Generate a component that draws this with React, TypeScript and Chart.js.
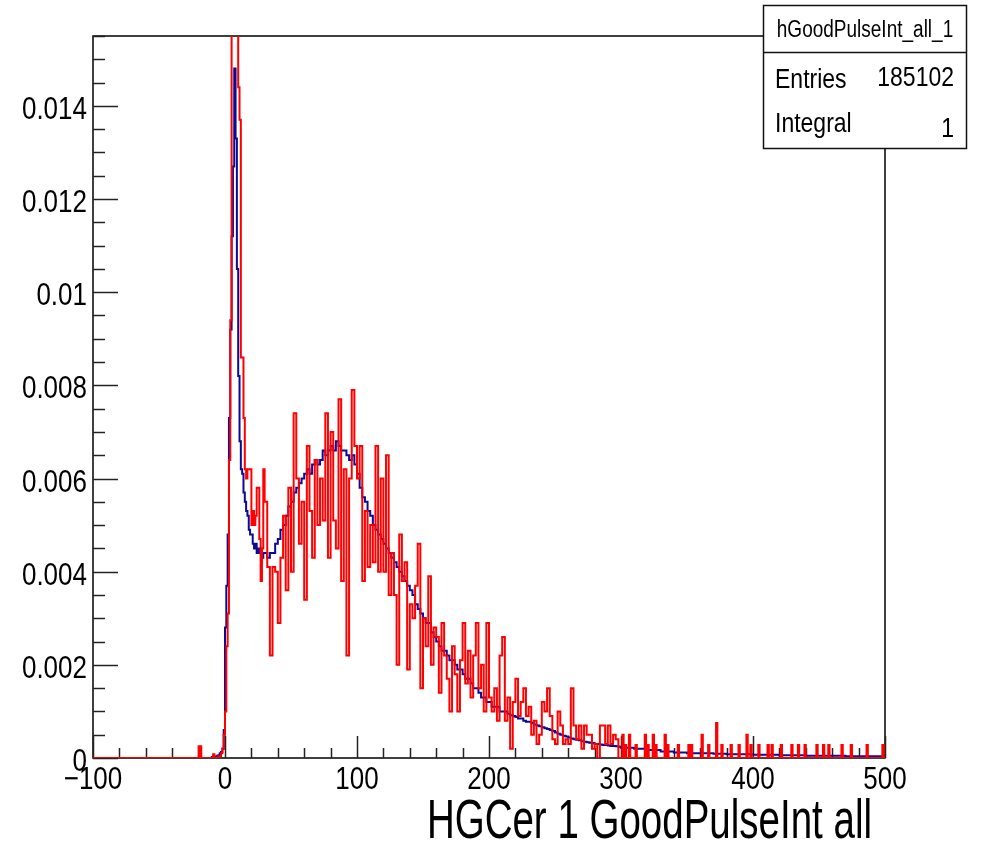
import React, { useEffect, useRef } from "react";
import { Chart, registerables } from "chart.js";

Chart.register(...registerables);

// ---- axis ranges / ticks ----
const xMin = -100;
const xMax = 500;
const yMin = 0;
const yMax = 0.0155;
const xTickValues = [-100, 0, 100, 200, 300, 400, 500];
const xTickLabels = ["\u2212100", "0", "100", "200", "300", "400", "500"];
const yTickValues = [0, 0.002, 0.004, 0.006, 0.008, 0.01, 0.012, 0.014];
const yTickLabels = ["0", "0.002", "0.004", "0.006", "0.008", "0.01", "0.012", "0.014"];
const xTitle = "HGCer 1 GoodPulseInt all";

// ---- stats box ----
const statsTitle = "hGoodPulseInt_all_1";
const statsNames = ["Entries", "Integral"];
const statsValues = ["185102", "1"];

// ---- blue histogram (normalised) ----
// bins of width 1 starting at -10
const blueCore = [
  0.00002, 0.00002, 0.00003, 0.00003, 0.00005, 0.00006, 0.0001, 0.00013, 0.0002, 0.0006,
  0.0028, 0.0037, 0.0048, 0.0073, 0.0092, 0.0112, 0.0127, 0.0148, 0.0133, 0.0105,
  0.0082, 0.0068, 0.0062, 0.0061, 0.0057, 0.0055, 0.0053, 0.0052, 0.0049, 0.0048,
  0.0048, 0.0046, 0.0045, 0.0046, 0.0044, 0.0045, 0.0044, 0.0045, 0.0043, 0.0044,
];
// bins of width 2 starting at 30
const blueBody = [
  0.0044, 0.0043, 0.0044, 0.0044, 0.0046, 0.0047, 0.0049, 0.005, 0.0052, 0.0054,
  0.0055, 0.0057, 0.0058, 0.0059, 0.006, 0.0061, 0.0062, 0.0061, 0.0063, 0.0064,
  0.0063, 0.0064, 0.0066, 0.0065, 0.0066, 0.0067, 0.0066, 0.0068, 0.0067, 0.0066,
  0.0066, 0.0065, 0.0064, 0.0065, 0.0063, 0.0061, 0.0058, 0.0056, 0.0055, 0.0053,
  0.0052, 0.005, 0.0049, 0.0048, 0.0047, 0.0046, 0.0045, 0.0044, 0.0043, 0.0042,
  0.0041, 0.004, 0.0039, 0.0038, 0.0037, 0.0036, 0.0035, 0.0033, 0.0032, 0.0031,
  0.003, 0.0029, 0.0029, 0.0027, 0.0026, 0.0025, 0.0024, 0.0023, 0.0023, 0.0022,
  0.0021, 0.0021, 0.002, 0.0019, 0.0019, 0.0018, 0.0017, 0.0017, 0.0016, 0.0015,
  0.0015, 0.0014, 0.0013, 0.0013, 0.0012, 0.0012, 0.0011, 0.0011, 0.0011, 0.001,
  0.001, 0.001, 0.00095, 0.00092, 0.0009, 0.00088, 0.00085, 0.00085, 0.0008, 0.00078,
  0.00078, 0.00075, 0.00072, 0.0007, 0.00068, 0.00066, 0.00064, 0.00062, 0.0006, 0.00058,
  0.00055, 0.00052, 0.0005, 0.00048, 0.00046, 0.00044, 0.00042, 0.0004, 0.00039, 0.00038,
  0.00036, 0.00035, 0.00034, 0.00033, 0.00032, 0.0003, 0.0003, 0.00029, 0.00028, 0.00028,
  0.00027, 0.00026, 0.00026, 0.00025, 0.00024,
];
// bins of width 10 starting at 300
const blueTail = [
  0.00022, 0.0002, 0.00017, 0.00014, 0.00012, 0.0001, 0.0001, 0.00009, 0.00008, 0.00008,
  0.00007, 0.00007, 0.00006, 0.00006, 0.00005, 0.00005, 0.00005, 0.00004, 0.00004, 0.00004,
];

// ---- red histogram (normalised) ----
// isolated width-1 bins below -10
const redLowX = [-20, -19];
const redLowY = [0.00025, 0.00025];
// bins of width 1 starting at -10
const redCore = [
  0, 0.00008, 0, 0, 0, 0.00004, 0.00004, 0.0001, 0.0002, 0.0005,
  0.001, 0.0024, 0.0031, 0.0064, 0.0094, 0.0175, 0.0185, 0.019, 0.0175, 0.017,
  0.0144, 0.0137, 0.0086, 0.0086, 0.0073, 0.0062, 0.006, 0.0062, 0.0062, 0.0062,
  0.005, 0.0053, 0.005, 0.0052, 0.0058, 0.0058, 0.0047, 0.0038, 0.0045, 0.0062,
];
// bins of width 2 starting at 30
const redBody = [
  0.0055, 0.0041, 0.0022, 0.0041, 0.004, 0.0029, 0.0043, 0.0052, 0.0036, 0.0058,
  0.004, 0.0074, 0.006, 0.0046, 0.0055, 0.0034, 0.0067, 0.0053, 0.0043, 0.0064,
  0.005, 0.006, 0.0051, 0.0074, 0.0043, 0.007, 0.0051, 0.0045, 0.0077, 0.0038,
  0.0062, 0.0022, 0.006, 0.0079, 0.0067, 0.006, 0.0067, 0.0038, 0.0053, 0.0041,
  0.005, 0.0042, 0.0067, 0.004, 0.006, 0.004, 0.0065, 0.0035, 0.0044, 0.0035,
  0.002, 0.0048, 0.0038, 0.0042, 0.0019, 0.0033, 0.003, 0.0037, 0.0046, 0.0015,
  0.003, 0.0024, 0.0039, 0.002, 0.0028, 0.0026, 0.0014, 0.0029, 0.0022, 0.0017,
  0.001, 0.0024, 0.0018, 0.001, 0.0021, 0.0029, 0.0016, 0.0023, 0.0013, 0.0022,
  0.0029, 0.0015, 0.002, 0.001, 0.0029, 0.0013, 0.001, 0.0015, 0.0008, 0.0022,
  0.0026, 0.0008, 0.0013, 0.0002, 0.0012, 0.0017, 0.0009, 0.0012, 0.0015, 0.0009,
  0.0011, 0.0005, 0.0008, 0.0003, 0.0005, 0.0012, 0.001, 0.0015, 0.0009, 0.0004,
  0.0003, 0.001, 0.0007, 0.0003, 0.0004, 0.0003, 0.0015, 0.0007, 0.0004, 0.0007,
  0.0002, 0.0007, 0.0005, 0.0005, 0.0002, 0.0003, 0, 0.0007, 0.0007, 0.0003,
  0.0007, 0.0003, 0.0005, 0.0004, 0,
];
// isolated width-1 bins above 300
const redTailX = [
  301, 303, 306, 311, 318, 320, 324, 326, 333, 335, 343, 351, 353, 361, 366, 372, 376, 383,
  389, 395, 398, 404, 411, 414, 421, 429, 434, 439, 448, 453, 457, 467, 474, 486, 498,
];
const redTailY = [
  0.0005, 0.00028, 0.0005, 0.00028, 0.0005, 0.00028, 0.0005, 0.00028, 0.0005, 0.00028,
  0.00028, 0.00028, 0.00028, 0.0005, 0.00028, 0.00075, 0.00028, 0.00028, 0.00028, 0.0005,
  0.00028, 0.00028, 0.00028, 0.00028, 0.00028, 0.00028, 0.00028, 0.00028, 0.00028, 0.00028,
  0.00028, 0.00028, 0.00028, 0.00028, 0.00028,
];

const RED = "#ff0000";
const BLUE = "#0a0a96";
const FONT = '"Liberation Sans", Arial, Helvetica, sans-serif';

type P = { x: number; y: number };
function bins(start: number, step: number, vals: number[]): P[] {
  return vals.map((v, i) => ({ x: start + i * step, y: v }));
}
function spikes(xs: number[], ys: number[], w: number): P[] {
  const out: P[] = [];
  xs.forEach((x, i) => {
    out.push({ x, y: ys[i] });
    out.push({ x: x + w, y: 0 });
  });
  return out;
}

const bluePoints: P[] = [
  { x: xMin, y: 0 },
  ...bins(-10, 1, blueCore),
  ...bins(30, 2, blueBody),
  ...bins(300, 10, blueTail),
  { x: xMax, y: blueTail[blueTail.length - 1] },
];
const redPoints: P[] = [
  { x: xMin, y: 0 },
  ...spikes(redLowX, redLowY, 1),
  ...bins(-10, 1, redCore),
  ...bins(30, 2, redBody),
  { x: 300, y: 0 },
  ...spikes(redTailX, redTailY, 1),
  { x: xMax, y: 0 },
];

function sText(
  ctx: CanvasRenderingContext2D,
  text: string,
  x: number,
  y: number,
  size: number,
  sy: number,
  align: CanvasTextAlign
) {
  ctx.save();
  ctx.font = `${size}px ${FONT}`;
  ctx.textAlign = align;
  ctx.textBaseline = "alphabetic";
  ctx.fillStyle = "#000";
  ctx.translate(x, y);
  ctx.scale(1, sy);
  ctx.fillText(text, 0, 0);
  ctx.restore();
}

const rootAxes = {
  id: "rootAxes",
  beforeDatasetsDraw(chart: any) {
    const { ctx, chartArea: a, scales } = chart;
    const xs = scales.x;
    const ys = scales.y;
    ctx.save();
    ctx.strokeStyle = "#000";
    ctx.lineWidth = 1.5;
    ctx.strokeRect(a.left, a.top, a.right - a.left, a.bottom - a.top);
    // y ticks (inside)
    ctx.lineWidth = 1.5;
    ctx.strokeStyle = "#222";
    for (let i = 0; i * 0.0005 <= yMax + 1e-9; i++) {
      const v = i * 0.0005;
      const py = Math.round(ys.getPixelForValue(v)) + 0.5;
      const len = i % 4 === 0 ? 25 : 12;
      ctx.beginPath();
      ctx.moveTo(a.left, py);
      ctx.lineTo(a.left + len, py);
      ctx.stroke();
    }
    // x ticks (inside)
    for (let v = xMin; v <= xMax; v += 20) {
      const px = Math.round(xs.getPixelForValue(v)) + 0.5;
      const len = (v - xMin) % 100 === 0 ? 22 : 10;
      ctx.beginPath();
      ctx.moveTo(px, a.bottom);
      ctx.lineTo(px, a.bottom - len);
      ctx.stroke();
    }
    ctx.restore();
    // labels
    yTickValues.forEach((v, i) => {
      const py = ys.getPixelForValue(v);
      sText(ctx, yTickLabels[i], a.left - 6, py + 13, 26, 1.22, "right");
    });
    xTickValues.forEach((v, i) => {
      const px = xs.getPixelForValue(v);
      sText(ctx, xTickLabels[i], px, a.bottom + 31, 26, 1.22, "center");
    });
    sText(ctx, xTitle, a.right - 13, a.bottom + 80, 38.5, 1.42, "right");
  },
  afterDraw(chart: any) {
    const { ctx } = chart;
    ctx.save();
    ctx.fillStyle = "#fff";
    ctx.strokeStyle = "#111";
    ctx.lineWidth = 1.5;
    ctx.fillRect(763.5, 5.5, 203, 143);
    ctx.strokeRect(763.5, 5.5, 203, 143);
    ctx.beginPath();
    ctx.moveTo(763.5, 52.5);
    ctx.lineTo(966.5, 52.5);
    ctx.stroke();
    ctx.restore();
    sText(ctx, statsTitle, 865, 37, 19, 1.24, "center");
    sText(ctx, statsNames[0], 775, 88, 23, 1.22, "left");
    sText(ctx, statsValues[0], 954, 86, 23, 1.22, "right");
    sText(ctx, statsNames[1], 775, 132, 23, 1.22, "left");
    sText(ctx, statsValues[1], 954, 137, 23, 1.22, "right");
  },
};

export default function App() {
  const ref = useRef<HTMLCanvasElement | null>(null);
  useEffect(() => {
    document.body.style.margin = "0";
    if (!ref.current) return;
    const chart = new Chart(ref.current, {
      type: "line",
      data: {
        datasets: [
          {
            label: "red",
            data: redPoints,
            stepped: true,
            borderColor: RED,
            borderWidth: 2,
            pointRadius: 0,
            fill: false,
            order: 0,
          },
          {
            label: "blue",
            data: bluePoints,
            stepped: true,
            borderColor: BLUE,
            borderWidth: 2,
            pointRadius: 0,
            fill: false,
            order: 1,
          },
        ],
      },
      options: {
        animation: false,
        responsive: false,
        events: [],
        layout: { padding: { left: 93, right: 97, top: 36, bottom: 84 } },
        scales: {
          x: { type: "linear", min: xMin, max: xMax, display: false },
          y: { type: "linear", min: yMin, max: yMax, display: false },
        },
        plugins: { legend: { display: false }, tooltip: { enabled: false } },
      },
      plugins: [rootAxes],
    } as any);
    return () => chart.destroy();
  }, []);
  return (
    <div style={{ position: "fixed", left: 0, top: 0, width: 982, height: 842, background: "#fff" }}>
      <canvas ref={ref} width={982} height={842} style={{ display: "block" }} />
    </div>
  );
}
